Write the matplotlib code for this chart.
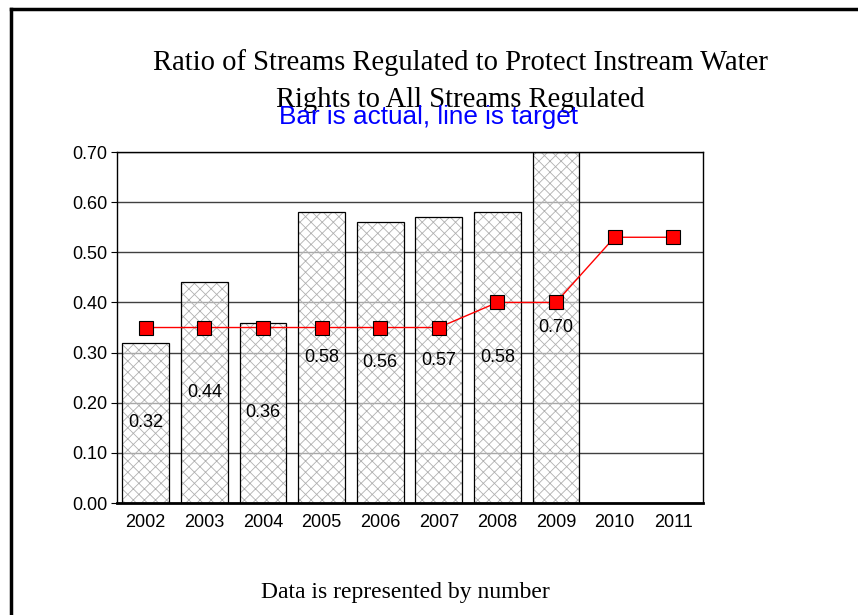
import numpy as np
import matplotlib
matplotlib.use("Agg")
import matplotlib.pyplot as plt
from matplotlib.lines import Line2D

years = ["2002", "2003", "2004", "2005", "2006", "2007", "2008", "2009", "2010", "2011"]
actual = [0.32, 0.44, 0.36, 0.58, 0.56, 0.57, 0.58, 0.70]
target = [0.35, 0.35, 0.35, 0.35, 0.35, 0.35, 0.40, 0.40, 0.53, 0.53]

plt.rcParams["hatch.linewidth"] = 0.6

fig = plt.figure(figsize=(8.58, 6.15), dpi=100)
ax = fig.add_axes([0.1364, 0.1821, 0.683, 0.5707])

x = np.arange(len(years))
xa = x[:len(actual)]
ax.set_axisbelow(True)
ax.yaxis.grid(True, color="#404040", lw=1.0)
# hatch in light grey, outline drawn separately in black
ax.bar(xa, actual, width=0.8, facecolor=(1, 1, 1, 0.55), edgecolor="#b0b0b0",
       lw=0, hatch="xxx", zorder=2)
ax.bar(xa, actual, width=0.8, facecolor="none", edgecolor="black", lw=0.9, zorder=3)
for xi, v in zip(xa, actual):
    ax.text(xi, v / 2, f"{v:.2f}", ha="center", va="center", fontsize=13,
            family="Liberation Sans", zorder=4)
ax.plot(x, target, color="red", lw=1, marker="s", ms=10, mfc="red", mec="black",
        mew=0.8, zorder=5)

ax.set_xlim(-0.49, len(years) - 0.49)
ax.set_ylim(0, 0.70)
ticks = np.arange(0, 0.71, 0.1)
ax.set_yticks(ticks)
ax.set_yticklabels([f"{t:.2f}" for t in ticks])
ax.set_xticks(x)
ax.set_xticklabels(years)
for lab in ax.get_xticklabels() + ax.get_yticklabels():
    lab.set_family("Liberation Sans")
    lab.set_fontsize(13)
ax.tick_params(axis="x", length=0, pad=8)
ax.tick_params(axis="y", length=4, pad=3)
for s in ax.spines.values():
    s.set_color("black")
    s.set_linewidth(1.0)
ax.spines["bottom"].set_linewidth(2)

fig.text(0.537, 0.898, "Ratio of Streams Regulated to Protect Instream Water",
         ha="center", va="center", family="Liberation Serif", fontsize=20.6)
fig.text(0.537, 0.837, "Rights to All Streams Regulated",
         ha="center", va="center", family="Liberation Serif", fontsize=20.6)
fig.text(0.499, 0.809, "Bar is actual, line is target", ha="center", va="center",
         family="Liberation Sans", fontsize=18.8, color="blue")
fig.text(0.472, 0.037, "Data is represented by number", ha="center", va="center",
         family="Liberation Serif", fontsize=17)

# slide frame
fig.add_artist(Line2D([11 / 858, 11 / 858], [0, 1 - 9 / 615], color="black", lw=2.5))
fig.add_artist(Line2D([11 / 858, 1], [1 - 9 / 615, 1 - 9 / 615], color="black", lw=2.5))

fig.savefig("out.png", dpi=100, facecolor="white")
